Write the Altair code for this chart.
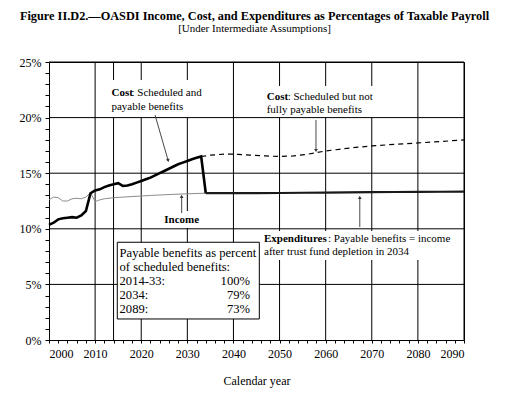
import altair as alt
import pandas as pd

# ---------------- data ----------------
COST_YEARS = list(range(2000, 2035))
COST_VALUES = [10.35, 10.55, 10.85, 10.95, 11.0, 11.05, 11.0, 11.2, 11.6, 13.2,
               13.45, 13.55, 13.75, 13.9, 14.0, 14.1, 13.85, 13.9, 14.0, 14.15,
               14.3, 14.45, 14.6, 14.8, 15.0, 15.2, 15.4, 15.6, 15.8, 15.95,
               16.1, 16.25, 16.38, 16.5, 13.2]

SCHED_YEARS = [2033, 2035, 2038, 2041, 2044, 2047, 2050, 2053, 2056, 2058,
               2060, 2063, 2066, 2070, 2075, 2080, 2085, 2090]
SCHED_VALUES = [16.5, 16.62, 16.72, 16.7, 16.62, 16.55, 16.5, 16.55, 16.7, 16.85,
                17.0, 17.15, 17.3, 17.45, 17.6, 17.72, 17.85, 18.0]

INCOME_YEARS = list(range(2000, 2015)) + [2018, 2022, 2026, 2030, 2034, 2040, 2045,
                                          2050, 2055, 2060, 2065, 2070, 2075, 2080, 2085, 2090]
INCOME_VALUES = [12.6, 12.85, 12.8, 12.5, 12.5, 12.7, 12.75, 12.7, 12.85, 13.25,
                 12.45, 12.6, 12.7, 12.75, 12.8, 12.9, 13.0, 13.08, 13.15, 13.2,
                 13.2, 13.2, 13.22, 13.24, 13.26, 13.28, 13.3, 13.31, 13.32, 13.33, 13.35]

DEPLETION_YEAR = 2034
PROJECTION_START = 2014

X_TICKS = list(range(2000, 2091, 2))
Y_TICKS = list(range(0, 26))
X_GRID = list(range(2010, 2091, 10))
Y_GRID = list(range(5, 26, 5))

# annotation text
BOLD_TEXT = ["Cost", "Cost", "Expenditures", "Income"]
BOLD_X = [2013.55, 2047.21, 2046.63, 2028.77]
BOLD_Y = [22.21, 21.88, 9.06, 10.79]
BOLD_ALIGN = ["left", "left", "left", "center"]

PLAIN_TEXT = [": Scheduled and", "payable benefits", ": Scheduled but not",
              "fully payable benefits", ": Payable benefits = income",
              "after trust fund depletion in 2034"]
PLAIN_X = [2017.89, 2013.55, 2051.76, 2047.21, 2060.51, 2046.63]
PLAIN_Y = [22.21, 20.95, 21.88, 20.68, 9.06, 7.89]

# arrows (start -> tip)
ARROW_X1 = [2022.99, 2057.9, 2028.77, 2067.4]
ARROW_Y1 = [20.23, 19.78, 11.42, 10.16]
ARROW_X2 = [2025.81, 2057.9, 2028.77, 2067.4]
ARROW_Y2 = [16.19, 17.09, 12.86, 12.77]
ARROW_ANGLE = [164, 180, 0, 0]

# white label backgrounds
MASK_X1 = [2013.23, 2046.63, 2024.5, 2046.19]
MASK_X2 = [2034.27, 2071.13, 2033.0, 2088.7]
MASK_Y1 = [23.38, 22.84, 11.6, 9.8]
MASK_Y2 = [20.05, 20.05, 10.07, 7.19]

# boxed note
BOX = dict(x1=2014.81, x2=2045.61, y1=8.79, y2=1.89)
NOTE_LEFT = ["Payable benefits as percent", "of scheduled benefits:", "2014-33:", "2034:", "2089:"]
NOTE_LEFT_Y = [7.80, 6.56, 5.31, 4.05, 2.81]
NOTE_LEFT_X = 2015.3
NOTE_RIGHT = ["100%", "79%", "73%"]
NOTE_RIGHT_Y = [5.31, 4.05, 2.81]
NOTE_RIGHT_X = 2043.59

SERIF = "Liberation Serif"

# ---------------- encodings ----------------
XAXIS = alt.Axis(values=X_TICKS, format="d",
                 labelExpr="datum.value % 10 === 0 ? datum.label : ''",
                 title="Calendar year", tickSize=3, labelPadding=5, titlePadding=16,
                 grid=False, labelFont=SERIF, labelFontSize=12, labelColor="black",
                 titleFont=SERIF, titleFontSize=12, titleFontWeight="normal", titleColor="black",
                 domainColor="black", tickColor="black")
YAXIS = alt.Axis(values=Y_TICKS,
                 labelExpr="datum.value % 5 === 0 ? datum.value + '%' : ''",
                 title=None, tickSize=4, labelPadding=4, grid=False,
                 labelFont=SERIF, labelFontSize=12, labelColor="black",
                 domainColor="black", tickColor="black")
XS = alt.Scale(domain=[2000, 2090], nice=False, zero=False)
YS = alt.Scale(domain=[0, 25], nice=False, zero=True)


def X(f):
    return alt.X(f, type="quantitative", scale=XS, axis=XAXIS)


def Y(f):
    return alt.Y(f, type="quantitative", scale=YS, axis=YAXIS)


cost_df = pd.DataFrame({"year": COST_YEARS, "pct": COST_VALUES})
sched_df = pd.DataFrame({"year": SCHED_YEARS, "pct": SCHED_VALUES})
inc_df = pd.DataFrame({"year": INCOME_YEARS, "pct": INCOME_VALUES})
exp_df = inc_df[inc_df["year"] >= DEPLETION_YEAR]
mask_df = pd.DataFrame({"year": MASK_X1, "year2": MASK_X2, "pct": MASK_Y1, "pct2": MASK_Y2})
box_df = pd.DataFrame({"year": [BOX["x1"]], "year2": [BOX["x2"]], "pct": [BOX["y1"]], "pct2": [BOX["y2"]]})
arrow_df = pd.DataFrame({"year": ARROW_X1, "pct": ARROW_Y1, "year2": ARROW_X2, "pct2": ARROW_Y2,
                         "angle": ARROW_ANGLE})
bold_df = pd.DataFrame({"year": BOLD_X, "pct": BOLD_Y, "text": BOLD_TEXT, "align": BOLD_ALIGN})
plain_df = pd.DataFrame({"year": PLAIN_X, "pct": PLAIN_Y, "text": PLAIN_TEXT})
noteL_df = pd.DataFrame({"year": [NOTE_LEFT_X] * len(NOTE_LEFT), "pct": NOTE_LEFT_Y, "text": NOTE_LEFT})
noteR_df = pd.DataFrame({"year": [NOTE_RIGHT_X] * len(NOTE_RIGHT), "pct": NOTE_RIGHT_Y, "text": NOTE_RIGHT})
vgrid_df = pd.DataFrame({"year": X_GRID + [PROJECTION_START]})
hgrid_df = pd.DataFrame({"pct": Y_GRID})

vgrid = alt.Chart(vgrid_df).mark_rule(color="black", strokeWidth=1).encode(x=X("year"))
hgrid = alt.Chart(hgrid_df).mark_rule(color="black", strokeWidth=1).encode(y=Y("pct"))
masks = alt.Chart(mask_df).mark_rect(color="white").encode(
    x=X("year"), x2="year2", y=Y("pct"), y2="pct2")
box = alt.Chart(box_df).mark_rect(fill="white", stroke="black", strokeWidth=1).encode(
    x=X("year"), x2="year2", y=Y("pct"), y2="pct2")
income = alt.Chart(inc_df).mark_line(color="#8c8c8c", strokeWidth=1).encode(x=X("year"), y=Y("pct"))
cost = alt.Chart(cost_df).mark_line(color="black", strokeWidth=2.6).encode(x=X("year"), y=Y("pct"))
sched = alt.Chart(sched_df).mark_line(color="black", strokeWidth=1.2, strokeDash=[5, 4]).encode(
    x=X("year"), y=Y("pct"))
expend = alt.Chart(exp_df).mark_line(color="#1a1a1a", strokeWidth=2.2).encode(x=X("year"), y=Y("pct"))
arrows = alt.Chart(arrow_df).mark_rule(color="#333333", strokeWidth=0.9).encode(
    x=X("year"), y=Y("pct"), x2="year2", y2="pct2")
heads = alt.Chart(arrow_df).mark_point(shape="triangle", filled=True, color="#333333",
                                       size=14, opacity=1).encode(
    x=X("year2"), y=Y("pct2"), angle=alt.Angle("angle:Q", scale=None))
bold_left = alt.Chart(bold_df[bold_df["align"] == "left"]).mark_text(
    align="left", baseline="middle", font=SERIF, fontSize=11, fontWeight="bold", color="black").encode(
    x=X("year"), y=Y("pct"), text="text:N")
bold_center = alt.Chart(bold_df[bold_df["align"] == "center"]).mark_text(
    align="center", baseline="middle", font=SERIF, fontSize=11, fontWeight="bold", color="black").encode(
    x=X("year"), y=Y("pct"), text="text:N")
plain = alt.Chart(plain_df).mark_text(
    align="left", baseline="middle", font=SERIF, fontSize=11, color="black").encode(
    x=X("year"), y=Y("pct"), text="text:N")
noteL = alt.Chart(noteL_df).mark_text(
    align="left", baseline="middle", font=SERIF, fontSize=12.6, color="black").encode(
    x=X("year"), y=Y("pct"), text="text:N")
noteR = alt.Chart(noteR_df).mark_text(
    align="right", baseline="middle", font=SERIF, fontSize=12.6, color="black").encode(
    x=X("year"), y=Y("pct"), text="text:N")

chart = alt.layer(
    vgrid, hgrid, masks, box, income, cost, sched, expend, arrows, heads,
    bold_left, bold_center, plain, noteL, noteR
).properties(
    width=415, height=278,
    autosize=alt.AutoSizeParams(type="none"),
    padding={"left": 41, "top": 54, "right": 48, "bottom": 48},
    background="white",
    title=alt.TitleParams(
        text="Figure II.D2.\u2014OASDI Income, Cost, and Expenditures as Percentages of Taxable Payroll",
        subtitle="[Under Intermediate Assumptions]",
        font=SERIF, fontSize=12.3, fontWeight="bold", color="black",
        subtitleFont=SERIF, subtitleFontSize=11, subtitleColor="black", subtitlePadding=1,
        anchor="middle", frame="group", offset=22, dx=-2),
).configure_view(
    stroke="black", strokeWidth=1
)

chart.save("out.html", embed_options={"renderer": "svg", "actions": False})
